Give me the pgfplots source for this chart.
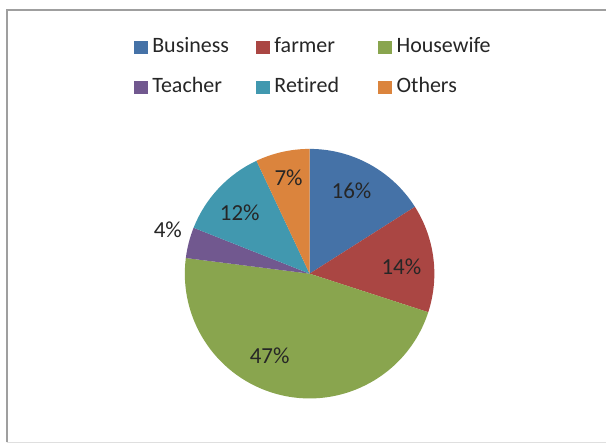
\documentclass[border=0pt]{standalone}
\usepackage{pgfplots}
\pgfplotsset{compat=1.18}
\usepackage{pgfplotstable}
\usepackage{fontspec}
\setmainfont{Carlito}[Ligatures=NoCommon]
\definecolor{c1}{HTML}{4572A7}
\definecolor{c2}{HTML}{AA4643}
\definecolor{c3}{HTML}{89A54E}
\definecolor{c4}{HTML}{71588F}
\definecolor{c5}{HTML}{4198AF}
\definecolor{c6}{HTML}{DB843D}
% value = share in percent; lx, ly = label position (image pixels, y down)
\pgfplotstableread{
name value color lx ly
Business 16 c1 352 191
farmer 14 c2 402 267
Housewife 47 c3 270 356
Teacher 4 c4 168 230
Retired 12 c5 240 213
Others 7 c6 289 178
}\pietable
\tikzset{pielabel/.style={font=\fontsize{23}{27}\selectfont, text=black!85, inner sep=0pt}}
\begin{document}
\begin{tikzpicture}
\begin{axis}[
  x=1pt, y=1pt,
  xmin=0, xmax=607, ymin=0, ymax=445,
  hide axis,
  clip=false,
  legend columns=3,
  legend style={
    at={(axis cs:134,408)}, anchor=north west,
    draw=none, fill=none, inner sep=0pt, outer sep=0pt,
    font=\fontsize{22}{26}\selectfont,
    nodes={inner sep=0pt, text height=15pt, text depth=5pt, anchor=base west, text=black!85},
    row sep=20pt,
    /tikz/every odd column/.style={column sep=5pt},
    /tikz/every even column/.style={column sep=0pt},
  },
  legend cell align=left,
]
\addplot[draw=none, fill=none, forget plot] coordinates {(0,0) (607,445)};
\draw[white, fill=white] (axis cs:0,0) rectangle (axis cs:607,445);
\draw[gray!75, line width=2pt] (axis cs:6.5,2) -- (axis cs:6.5,435) -- (axis cs:607,435);
\draw[gray!25, line width=1.5pt] (axis cs:6.5,2) -- (axis cs:607,2);
\gdef\cum{0}
\foreach \i in {0,...,5}{
  \pgfplotstablegetelem{\i}{value}\of\pietable \let\val\pgfplotsretval
  \pgfplotstablegetelem{\i}{color}\of\pietable \let\colr\pgfplotsretval
  \pgfplotstablegetelem{\i}{lx}\of\pietable \let\lx\pgfplotsretval
  \pgfplotstablegetelem{\i}{ly}\of\pietable \pgfmathsetmacro\ly{445-\pgfplotsretval}
  \pgfmathsetmacro\a{90-3.6*\cum}
  \pgfmathsetmacro\b{90-3.6*(\cum+\val)}
  \pgfmathsetmacro\newcum{\cum+\val}
  \global\let\cum\newcum
  \edef\temp{\noexpand\fill[\colr] (axis cs:310,171) -- ++(\a:125pt) arc[start angle=\a, end angle=\b, radius=125pt] -- cycle;
    \noexpand\node[pielabel] at (axis cs:\lx,\ly) {\val\noexpand\%};}
  \temp
}
\addlegendimage{legend image code/.code={\fill[c1] (0pt,-1pt) rectangle (13pt,11pt);}}
\addlegendentry{\makebox[104pt][l]{Business}}
\addlegendimage{legend image code/.code={\fill[c2] (0pt,-1pt) rectangle (13pt,11pt);}}
\addlegendentry{\makebox[104pt][l]{farmer}}
\addlegendimage{legend image code/.code={\fill[c3] (0pt,-1pt) rectangle (13pt,11pt);}}
\addlegendentry{Housewife}
\addlegendimage{legend image code/.code={\fill[c4] (0pt,-1pt) rectangle (13pt,11pt);}}
\addlegendentry{\makebox[104pt][l]{Teacher}}
\addlegendimage{legend image code/.code={\fill[c5] (0pt,-1pt) rectangle (13pt,11pt);}}
\addlegendentry{\makebox[104pt][l]{Retired}}
\addlegendimage{legend image code/.code={\fill[c6] (0pt,-1pt) rectangle (13pt,11pt);}}
\addlegendentry{Others}
\end{axis}
\end{tikzpicture}
\end{document}
